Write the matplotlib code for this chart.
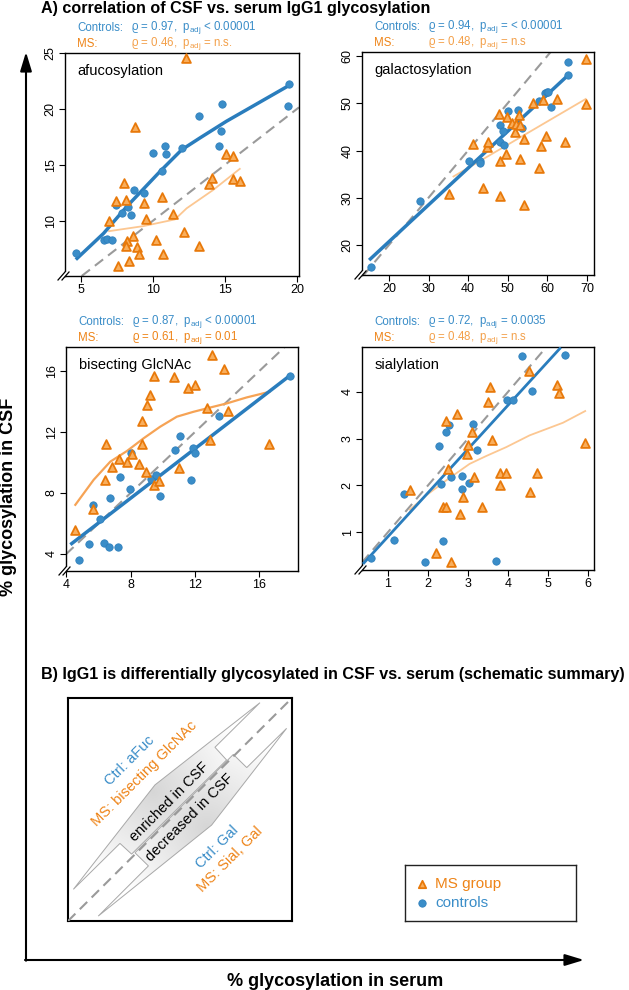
import numpy as np
import matplotlib
matplotlib.use("Agg")
import matplotlib.pyplot as plt
from matplotlib.patches import Polygon

plt.rcParams['font.family'] = ['Liberation Sans', 'DejaVu Sans']
plt.rcParams['mathtext.fontset'] = 'custom'
plt.rcParams['mathtext.rm'] = 'Liberation Sans'

W, H = 629, 990
BLUE = '#3a8dc8'
BLUE_DK = '#2a7dbd'
ORANGE = '#ee8418'
ORANGE_FILL = '#f9ae5c'
ORANGE_LT = '#fcc792'

# ---- afucosylation ----
afuc_ctrl_x = [4.65, 6.64, 6.8, 7.19, 7.84, 8.3, 8.46, 7.45, 8.69, 9.38, 10.03, 10.65, 10.82,
               10.91, 12.0, 13.2, 14.58, 14.76, 14.83, 19.45, 19.4]
afuc_ctrl_y = [7.13, 8.32, 8.41, 8.32, 10.72, 11.26, 10.51, 11.41, 12.75, 12.51, 16.05, 14.49, 16.65,
               15.93, 16.47, 19.4, 16.71, 18.05, 20.42, 22.19, 20.24]
afuc_ms_x = [12.27, 8.76, 8.02, 7.42, 8.12, 6.96, 9.38, 10.6, 9.52, 11.4, 8.6, 8.18, 8.12, 8.88,
             9.02, 8.35, 7.58, 10.19, 10.68, 12.15, 13.17, 13.91, 14.07, 15.06, 15.57, 15.57, 16.03]
afuc_ms_y = [24.52, 18.38, 13.41, 11.77, 11.89, 9.97, 11.62, 12.1, 10.15, 10.63, 8.62, 8.2, 7.78, 7.66,
             7.0, 6.41, 5.93, 8.26, 7.0, 8.98, 7.72, 13.26, 13.8, 15.93, 15.75, 13.77, 13.56]
afuc_ctrl_fit_x = [4.65, 6.57, 8.18, 10.49, 12.0, 13.26, 15.11, 19.45]
afuc_ctrl_fit_y = [6.53, 8.86, 11.26, 14.4, 16.35, 17.4, 18.9, 22.1]
afuc_ms_fit_x = [6.96, 9.34, 11.53, 12.34, 14.18, 16.03]
afuc_ms_fit_y = [9.07, 9.52, 10.12, 11.11, 12.75, 14.64]

# ---- galactosylation ----
gal_ctrl_x = [15.45, 27.84, 40.32, 43.02, 43.0, 48.08, 49.09, 48.08, 48.9, 50.2, 52.5, 53.56, 57.9,
              59.4, 59.9, 60.3, 60.9, 65.2, 65.2]
gal_ctrl_y = [15.41, 29.31, 37.71, 37.71, 37.3, 41.8, 41.1, 45.5, 44.1, 48.4, 48.6, 44.7, 50.5,
              52.1, 52.3, 52.4, 49.2, 58.8, 55.9]
gal_ms_x = [35.26, 43.86, 48.08, 54.2, 41.33, 44.7, 45.1, 47.9, 48.08, 49.6, 49.9, 51.0, 51.9, 52.1,
            52.9, 53.0, 53.1, 54.0, 56.3, 58.0, 58.4, 59.0, 59.8, 62.4, 64.6, 69.7, 69.7]
gal_ms_y = [30.9, 32.0, 30.37, 28.5, 41.4, 40.7, 41.9, 47.65, 37.8, 39.2, 47.0, 45.9, 44.0, 45.7,
            47.5, 45.3, 38.3, 42.4, 50.0, 36.2, 41.0, 50.6, 43.1, 50.8, 41.7, 59.3, 49.8]
gal_ctrl_fit_x = [15.0, 65.2]
gal_ctrl_fit_y = [16.8, 55.9]
gal_ms_fit_x = [36.3, 69.7]
gal_ms_fit_y = [34.5, 50.9]

# ---- bisecting GlcNAc ----
bis_ctrl_x = [4.81, 5.43, 6.07, 5.63, 6.34, 6.67, 7.23, 6.71, 7.31, 7.97, 8.03, 9.28, 9.59, 9.83,
              10.77, 11.08, 11.76, 11.9, 12.0, 13.48, 17.9]
bis_ctrl_y = [3.57, 4.65, 6.29, 7.18, 4.7, 4.48, 4.48, 7.64, 9.07, 8.25, 10.64, 8.92, 9.16, 7.83,
              10.8, 11.73, 8.88, 10.93, 10.6, 13.04, 15.7]
bis_ms_x = [4.56, 5.63, 6.42, 6.48, 6.83, 7.29, 7.77, 8.08, 8.53, 8.7, 8.72, 8.97, 9.0, 9.21, 9.42,
            9.42, 9.75, 10.72, 11.03, 11.59, 11.97, 12.73, 12.9, 13.04, 13.77, 14.08, 16.62]
bis_ms_y = [5.59, 6.94, 8.86, 11.19, 9.73, 10.2, 10.0, 10.56, 9.92, 12.73, 11.23, 9.34, 13.76, 14.45,
            15.67, 8.53, 8.81, 15.59, 9.64, 14.85, 15.06, 13.54, 11.47, 17.07, 16.13, 13.36, 11.19]
bis_ctrl_fit_x = [4.25, 17.9]
bis_ctrl_fit_y = [4.61, 15.7]
bis_ms_fit_x = [4.56, 5.7, 6.73, 7.77, 8.8, 9.83, 10.87, 11.9, 12.94, 13.97, 15.2, 16.62]
bis_ms_fit_y = [7.22, 8.86, 10.05, 10.75, 11.58, 12.34, 13.0, 13.32, 13.6, 13.87, 14.26, 14.63]

# ---- sialylation ----
sia_ctrl_x = [0.57, 1.14, 1.39, 1.93, 2.37, 2.28, 2.45, 2.52, 2.33, 2.57, 2.85, 2.85, 3.02, 3.13,
              3.22, 3.69, 3.98, 4.13, 4.35, 4.6, 5.43]
sia_ctrl_y = [0.45, 0.84, 1.82, 0.36, 0.82, 2.84, 3.14, 3.29, 2.03, 2.17, 2.2, 1.92, 2.05, 3.31,
              2.76, 0.39, 3.82, 3.82, 4.76, 4.01, 4.79]
sia_ms_x = [1.55, 2.19, 2.37, 2.46, 2.45, 2.5, 2.58, 2.72, 2.81, 2.88, 3.0, 2.97, 3.11, 3.15, 3.36,
            3.5, 3.54, 3.61, 3.79, 3.81, 3.94, 4.52, 4.54, 4.72, 5.23, 5.28, 5.93]
sia_ms_y = [1.91, 0.56, 1.54, 1.54, 3.38, 2.34, 0.37, 3.52, 1.39, 1.76, 2.86, 2.68, 3.14, 2.18, 1.54,
            3.78, 4.11, 2.98, 2.27, 2.0, 2.27, 4.44, 1.86, 2.27, 4.14, 3.98, 2.91]
sia_ctrl_fit_x = [0.375, 5.32]
sia_ctrl_fit_y = [0.32, 4.95]
sia_ms_fit_x = [1.55, 1.96, 2.46, 3.04, 3.46, 3.96, 4.54, 5.375, 5.93]
sia_ms_fit_y = [1.48, 1.79, 2.11, 2.46, 2.63, 2.82, 3.07, 3.34, 3.59]

panels = [
    dict(name='afucosylation', box=(65, 53, 299, 276), xlim=(3.9, 20.14), ylim=(5.06, 25),
         xt=[5, 10, 15, 20], yt=[10, 15, 20, 25],
         cx=afuc_ctrl_x, cy=afuc_ctrl_y, mx=afuc_ms_x, my=afuc_ms_y,
         cfx=afuc_ctrl_fit_x, cfy=afuc_ctrl_fit_y, mfx=afuc_ms_fit_x, mfy=afuc_ms_fit_y,
         ctrl_txt=r'ϱ = 0.97,  $\mathregular{p_{adj}}$ < 0.00001',
         ms_txt=r'ϱ = 0.46,  $\mathregular{p_{adj}}$ = n.s.', light=True, cw=2.5),
    dict(name='galactosylation', box=(362, 52, 594, 275), xlim=(13.2, 71.8), ylim=(13.65, 60.85),
         xt=[20, 30, 40, 50, 60, 70], yt=[20, 30, 40, 50, 60],
         cx=gal_ctrl_x, cy=gal_ctrl_y, mx=gal_ms_x, my=gal_ms_y,
         cfx=gal_ctrl_fit_x, cfy=gal_ctrl_fit_y, mfx=gal_ms_fit_x, mfy=gal_ms_fit_y,
         ctrl_txt=r'ϱ = 0.94,  $\mathregular{p_{adj}}$ = < 0.00001',
         ms_txt=r'ϱ = 0.48,  $\mathregular{p_{adj}}$ = n.s', light=True, cw=2.5),
    dict(name='bisecting GlcNAc', box=(66, 347, 298, 571), xlim=(3.98, 18.4), ylim=(2.88, 17.57),
         xt=[4, 8, 12, 16], yt=[4, 8, 12, 16],
         cx=bis_ctrl_x, cy=bis_ctrl_y, mx=bis_ms_x, my=bis_ms_y,
         cfx=bis_ctrl_fit_x, cfy=bis_ctrl_fit_y, mfx=bis_ms_fit_x, mfy=bis_ms_fit_y,
         ctrl_txt=r'ϱ = 0.87,  $\mathregular{p_{adj}}$ < 0.00001',
         ms_txt=r'ϱ = 0.61,  $\mathregular{p_{adj}}$ = 0.01', light=False, cw=2.5),
    dict(name='sialylation', box=(362, 347, 594, 570), xlim=(0.35, 6.15), ylim=(0.19, 4.96),
         xt=[1, 2, 3, 4, 5, 6], yt=[1, 2, 3, 4],
         cx=sia_ctrl_x, cy=sia_ctrl_y, mx=sia_ms_x, my=sia_ms_y,
         cfx=sia_ctrl_fit_x, cfy=sia_ctrl_fit_y, mfx=sia_ms_fit_x, mfy=sia_ms_fit_y,
         ctrl_txt=r'ϱ = 0.72,  $\mathregular{p_{adj}}$ = 0.0035',
         ms_txt=r'ϱ = 0.48,  $\mathregular{p_{adj}}$ = n.s', light=True, cw=2.0),
]


def rect(l, t, r, b):
    return [l / W, 1 - b / H, (r - l) / W, (b - t) / H]


fig = plt.figure(figsize=(W / 100, H / 100), dpi=100)

# background axes in pixel coords for arrows and titles
bg = fig.add_axes([0, 0, 1, 1], zorder=-1)
bg.set_xlim(0, W)
bg.set_ylim(H, 0)
bg.axis('off')
bg.annotate('', xy=(584, 960), xytext=(25, 960),
            arrowprops=dict(arrowstyle='-|>,head_length=1.15,head_width=0.35', lw=1.5,
                            color='black', shrinkA=0, shrinkB=0))
bg.annotate('', xy=(26, 52), xytext=(26, 960.7),
            arrowprops=dict(arrowstyle='-|>,head_length=1.15,head_width=0.35', lw=1.5,
                            color='black', shrinkA=0, shrinkB=0))
bg.text(41, 8, 'A) correlation of CSF vs. serum IgG1 glycosylation', fontsize=11.6,
        fontweight='bold', va='center', ha='left')
bg.text(41, 674, 'B) IgG1 is differentially glycosylated in CSF vs. serum (schematic summary)',
        fontsize=11.6, fontweight='bold', va='center', ha='left')
bg.text(335, 982, '% glycosylation in serum', fontsize=13, fontweight='bold',
        ha='center', va='center')
bg.text(9, 497, '% glycosylation in CSF', fontsize=13, fontweight='bold',
        ha='center', va='center', rotation=90)

for p in panels:
    l, t, r, b = p['box']
    ax = fig.add_axes(rect(l, t, r, b))
    ax.set_xlim(*p['xlim'])
    ax.set_ylim(*p['ylim'])
    lo = max(p['xlim'][0], p['ylim'][0])
    hi = min(p['xlim'][1], p['ylim'][1])
    ax.plot([lo, hi], [lo, hi], color='#9a9a9a', lw=1.5, ls=(0, (5, 3)), zorder=2)
    ax.plot(p['mfx'], p['mfy'], color=ORANGE_LT if p['light'] else '#f6a355',
            lw=1.3 if p['light'] else 1.6, zorder=3)
    ax.plot(p['cfx'], p['cfy'], color=BLUE_DK, lw=p['cw'], zorder=3, solid_capstyle='butt')
    ax.scatter(p['cx'], p['cy'], s=28, marker='o', color=BLUE, edgecolor='#2f80bd',
               linewidth=0.6, zorder=4)
    ax.scatter(p['mx'], p['my'], s=40, marker='^', color=ORANGE_FILL, edgecolor='#e8790a',
               linewidth=1.3, zorder=5)
    ax.set_xticks(p['xt'])
    ax.set_yticks(p['yt'])
    ax.tick_params(labelsize=9, length=4, width=0.8, pad=2)
    for lab in ax.get_yticklabels():
        lab.set_rotation(90)
        lab.set_va('center')
    for s in ax.spines.values():
        s.set_linewidth(1.0)
    ax.text(0.055, 0.92, p['name'], transform=ax.transAxes, fontsize=10.5, va='center')
    wpx, hpx = r - l, b - t
    # stat annotations
    ax.text(12 / wpx, 1 + 25 / hpx, 'Controls:', transform=ax.transAxes, fontsize=8.3,
            color=BLUE, va='center')
    ax.text(66 / wpx, 1 + 25 / hpx, p['ctrl_txt'], transform=ax.transAxes, fontsize=8.3,
            color=BLUE, va='center')
    ax.text(12 / wpx, 1 + 9 / hpx, 'MS:', transform=ax.transAxes, fontsize=8.3,
            color=ORANGE, va='center')
    ax.text(66 / wpx, 1 + 9 / hpx, p['ms_txt'], transform=ax.transAxes, fontsize=8.3,
            color='#f3a04a' if p['light'] else ORANGE, va='center')
    # axis break mark at the corner
    fx = lambda v: v / wpx
    fy = lambda v: v / hpx
    brk = Polygon([(fx(-7), fy(-4)), (fx(0), fy(4)), (fx(4), fy(4)), (fx(-3), fy(-4))],
                  closed=True, transform=ax.transAxes, facecolor='white', edgecolor='none',
                  clip_on=False, zorder=6)
    ax.add_patch(brk)
    ax.plot([fx(-7), fx(0)], [fy(-4), fy(4)], transform=ax.transAxes, color='black', lw=0.9,
            clip_on=False, zorder=7)
    ax.plot([fx(-3), fx(4)], [fy(-4), fy(4)], transform=ax.transAxes, color='black', lw=0.9,
            clip_on=False, zorder=7)

# ---- schematic panel B ----
axb = fig.add_axes(rect(68, 698, 292, 921))
axb.set_xlim(0, 1)
axb.set_ylim(0, 1)
axb.set_xticks([])
axb.set_yticks([])
for s in axb.spines.values():
    s.set_linewidth(1.5)

upper = [(0.024, 0.142), (0.388, 0.61), (0.857, 0.979), (0.656, 0.779), (0.708, 0.722),
         (0.284, 0.30), (0.232, 0.348)]
lower = [(0.135, 0.022), (0.359, 0.247), (0.299, 0.306), (0.738, 0.747), (0.798, 0.688),
         (0.976, 0.864), (0.641, 0.43)]
gx, gy = np.meshgrid(np.linspace(0, 1, 300), np.linspace(0, 1, 300))
for poly, c in [(upper, (0.38, 0.58)), (lower, (0.62, 0.42))]:
    d = np.hypot(gx - c[0], gy - c[1])
    lev = 0.84 + 0.16 * np.clip(d / 0.45, 0, 1)
    rgb = np.dstack([lev, lev, lev])
    pg = Polygon(poly, closed=True, facecolor='none', edgecolor='#a8a8a8', lw=0.7, zorder=3)
    axb.add_patch(pg)
    im = axb.imshow(rgb, extent=(0, 1, 0, 1), origin='lower', zorder=2, aspect='auto')
    im.set_clip_path(pg)
axb.plot([0, 1], [0, 1], color='#9a9a9a', lw=1.5, ls=(0, (5, 3)), zorder=4)
axb.text(0.455, 0.535, 'enriched in CSF', rotation=45, fontsize=10.5, ha='center',
         va='center', zorder=5)
axb.text(0.545, 0.465, 'decreased in CSF', rotation=45, fontsize=10.5, ha='center',
         va='center', zorder=5)
axb.text(0.277, 0.718, 'Ctrl: aFuc', rotation=45, fontsize=10.5, color=BLUE, ha='center',
         va='center', zorder=5)
axb.text(0.339, 0.662, 'MS: bisecting GlcNAc', rotation=45, fontsize=10.5, color=ORANGE,
         ha='center', va='center', zorder=5)
axb.text(0.664, 0.333, 'Ctrl: Gal', rotation=45, fontsize=10.5, color=BLUE, ha='center',
         va='center', zorder=5)
axb.text(0.723, 0.274, 'MS: Sial, Gal', rotation=45, fontsize=10.5, color=ORANGE,
         ha='center', va='center', zorder=5)

# ---- legend box ----
axl = fig.add_axes(rect(405, 865, 576, 921))
axl.set_xlim(0, 171)
axl.set_ylim(56, 0)
axl.set_xticks([])
axl.set_yticks([])
for s in axl.spines.values():
    s.set_linewidth(1.0)
    s.set_color('#222222')
axl.scatter([17], [19], s=28, marker='^', color=ORANGE_FILL, edgecolor='#e8790a', linewidth=1.3)
axl.scatter([17], [38], s=28, marker='o', color=BLUE, edgecolor='#2f80bd', linewidth=0.6)
axl.text(30, 19, 'MS group', fontsize=11, color=ORANGE, va='center')
axl.text(30, 38, 'controls', fontsize=11, color=BLUE, va='center')

fig.savefig('out.png', dpi=100)
